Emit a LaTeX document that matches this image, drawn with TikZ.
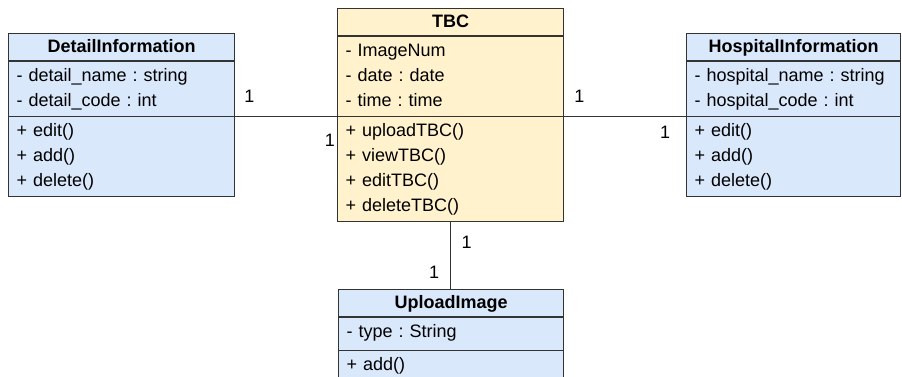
\documentclass[tikz,border=0pt]{standalone}
\usepackage{fontspec}
\setmainfont{Liberation Sans}
\usetikzlibrary{shapes.multipart,calc}
\definecolor{classblue}{HTML}{DAE8FC}
\definecolor{classyellow}{HTML}{FFF2CC}
\definecolor{edgegray}{HTML}{333333}
\frenchspacing
\newcommand{\hdr}[1]{\hbox to \hsize{\hfil\fontsize{18}{22}\selectfont\bfseries\vrule height 16pt depth 6pt width 0pt #1\hfil}}

\begin{document}
\begin{tikzpicture}[x=1pt,y=-1pt]
\tikzstyle{cls} = [rectangle split, rectangle split parts=3, draw=edgegray, line width=1.3pt, anchor=north west, text width=210pt, inner xsep=8pt, inner ysep=2pt, font=\fontsize{18}{25}\selectfont, align=left]
\tikzstyle{edge} = [draw=edgegray, line width=1.3pt]
\tikzstyle{mult} = [font=\fontsize{18}{22}\selectfont, inner sep=0pt]
\path[use as bounding box, clip] (0,0) rectangle (902,376);
\fill[white] (0,0) rectangle (902,376);
% classes
\node[cls, fill=classblue] (detail) at (8,33) {\hdr{DetailInformation}
  \nodepart{two}\strut- detail\_name : string\\\strut- detail\_code : int
  \nodepart{three}\strut+ edit()\\\strut+ add()\\\strut+ delete()};
\node[cls, fill=classyellow] (tbc) at (337,8) {\hdr{TBC}
  \nodepart{two}\strut- ImageNum\\\strut- date : date\\\strut- time : time
  \nodepart{three}\strut+ uploadTBC()\\\strut+ viewTBC()\\\strut+ editTBC()\\\strut+ deleteTBC()};
\node[cls, fill=classblue, text width=198pt] (hospital) at (686,33) {\hdr{HospitalInformation}
  \nodepart{two}\strut- hospital\_name : string\\\strut- hospital\_code : int
  \nodepart{three}\strut+ edit()\\\strut+ add()\\\strut+ delete()};
\node[cls, fill=classblue, text width=209pt] (upload) at (338,289) {\hdr{UploadImage}
  \nodepart{two}\strut- type : String\vrule depth 10.5pt width 0pt
  \nodepart{three}\strut+ add()\vrule depth 40pt width 0pt};
% associations
\draw[edge] (detail.two split east) -- (tbc.two split west);
\draw[edge] (tbc.two split east) -- (hospital.two split west);
\draw[edge] (tbc.south) -- (tbc.south |- upload.north);
% multiplicities
\node[mult] (dm) at ($(detail.two split east)+(14,-20)$) {1};
\node[mult] (td) at ($(tbc.two split west)+(-7,24)$) {1};
\node[mult] (th) at ($(tbc.two split east)+(15,-20)$) {1};
\node[mult] (hm) at ($(hospital.two split west)+(-21,16)$) {1};
\node[mult] (tu) at ($(tbc.south)+(16,20)$) {1};
\node[mult] (um) at ($(upload.north)+(-17,-17)$) {1};
\end{tikzpicture}
\end{document}
